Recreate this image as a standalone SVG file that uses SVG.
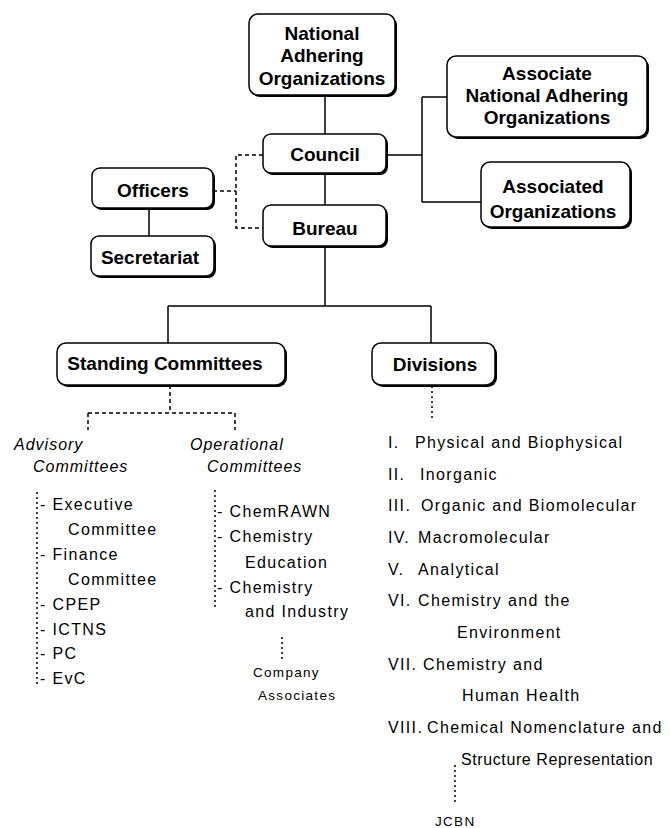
<svg xmlns="http://www.w3.org/2000/svg" width="670" height="828" viewBox="0 0 670 828">
<style>
.sh{fill:#000}
.bx{fill:#fff;stroke:#000;stroke-width:1.5}
.b{font-family:"Liberation Sans",Arial,sans-serif;font-weight:bold;font-size:19px;fill:#000;text-anchor:middle}
.t{font-family:"Liberation Sans",Arial,sans-serif;font-size:16px;letter-spacing:1.35px;fill:#000}
.i{font-family:"Liberation Sans",Arial,sans-serif;font-size:16px;font-style:italic;letter-spacing:1px;fill:#000}
.s{font-family:"Liberation Sans",Arial,sans-serif;font-size:13.5px;letter-spacing:1.3px;fill:#000}
.ln{fill:none;stroke:#000;stroke-width:1.5}
.da{fill:none;stroke:#000;stroke-width:1.5;stroke-dasharray:4 3}
.do{fill:none;stroke:#000;stroke-width:1.5;stroke-dasharray:2 3}
</style>
<rect width="670" height="828" fill="#fff"/>
<g id="connectors">
<path class="ln" d="M325 95V134M325 173V205M386 155H422M422 97V202M422 97H447M422 202H481"/>
<path class="ln" d="M149 209V236"/>
<path class="ln" d="M325 247V306M168 306H431M168 306V343M431 306V343"/>
<path class="da" d="M263 155H236V228H263M213 191H236"/>
<path class="da" d="M170 385V413M88 413H235M88 413V430M235 413V430"/>
<path class="do" d="M432 386V420"/>
<path class="do" d="M37 492V686"/>
<path class="do" d="M215 490V610"/>
<path class="do" d="M282 637V662"/>
<path class="do" d="M455 765V802"/>
</g>
<g id="nao">
<rect class="sh" x="251" y="16" width="146" height="81" rx="9"/>
<rect class="bx" x="249" y="14" width="146" height="81" rx="9"/>
<text class="b" x="322" y="40">National</text>
<text class="b" x="322" y="62">Adhering</text>
<text class="b" x="322" y="85">Organizations</text>
</g>
<g id="council">
<rect class="sh" x="265" y="136" width="123" height="39" rx="8"/>
<rect class="bx" x="263" y="134" width="123" height="39" rx="8"/>
<text class="b" x="325" y="161">Council</text>
</g>
<g id="bureau">
<rect class="sh" x="265" y="207" width="123" height="41" rx="8"/>
<rect class="bx" x="263" y="205" width="123" height="41" rx="8"/>
<text class="b" x="325" y="235">Bureau</text>
</g>
<g id="officers">
<rect class="sh" x="94" y="170" width="121" height="40" rx="8"/>
<rect class="bx" x="92" y="168" width="121" height="40" rx="8"/>
<text class="b" x="153" y="197">Officers</text>
</g>
<g id="secretariat">
<rect class="sh" x="93" y="238" width="123" height="40" rx="8"/>
<rect class="bx" x="91" y="236" width="123" height="40" rx="8"/>
<text class="b" x="150" y="264">Secretariat</text>
</g>
<g id="anao">
<rect class="sh" x="449" y="58" width="200" height="81" rx="9"/>
<rect class="bx" x="447" y="56" width="200" height="81" rx="9"/>
<text class="b" x="547" y="80">Associate</text>
<text class="b" x="547" y="102">National Adhering</text>
<text class="b" x="547" y="124">Organizations</text>
</g>
<g id="assoc">
<rect class="sh" x="483" y="164" width="149" height="65" rx="9"/>
<rect class="bx" x="481" y="162" width="149" height="65" rx="9"/>
<text class="b" x="553" y="193">Associated</text>
<text class="b" x="553" y="218">Organizations</text>
</g>
<g id="standing">
<rect class="sh" x="59" y="345" width="228" height="42" rx="9"/>
<rect class="bx" x="57" y="343" width="228" height="42" rx="9"/>
<text class="b" x="165" y="370">Standing Committees</text>
</g>
<g id="divisions">
<rect class="sh" x="374" y="345" width="123" height="42" rx="9"/>
<rect class="bx" x="372" y="343" width="123" height="42" rx="9"/>
<text class="b" x="435" y="371">Divisions</text>
</g>
<g id="advisory">
<text class="i" x="14" y="450">Advisory</text>
<text class="i" x="33" y="472">Committees</text>
<text class="t" x="40" y="510">- Executive</text>
<text class="t" x="68" y="535">Committee</text>
<text class="t" x="40" y="560">- Finance</text>
<text class="t" x="68" y="585">Committee</text>
<text class="t" x="40" y="610">- CPEP</text>
<text class="t" x="40" y="635">- ICTNS</text>
<text class="t" x="40" y="659">- PC</text>
<text class="t" x="40" y="684">- EvC</text>
</g>
<g id="operational">
<text class="i" x="190" y="450">Operational</text>
<text class="i" x="207" y="472">Committees</text>
<text class="t" x="217" y="517">- ChemRAWN</text>
<text class="t" x="217" y="542">- Chemistry</text>
<text class="t" x="245" y="568">Education</text>
<text class="t" x="217" y="593">- Chemistry</text>
<text class="t" x="245" y="617">and Industry</text>
</g>
<g id="company">
<text class="s" x="253" y="677">Company</text>
<text class="s" x="258" y="700">Associates</text>
</g>
<g id="divlist">
<text class="t" y="448"><tspan x="388">I.</tspan><tspan x="415">Physical and Biophysical</tspan></text>
<text class="t" y="480"><tspan x="388">II.</tspan><tspan x="420">Inorganic</tspan></text>
<text class="t" y="511"><tspan x="388">III.</tspan><tspan x="421">Organic and Biomolecular</tspan></text>
<text class="t" y="543"><tspan x="388">IV.</tspan><tspan x="418">Macromolecular</tspan></text>
<text class="t" y="575"><tspan x="388">V.</tspan><tspan x="418">Analytical</tspan></text>
<text class="t" y="606"><tspan x="388">VI.</tspan><tspan x="418">Chemistry and the</tspan></text>
<text class="t" x="457" y="638">Environment</text>
<text class="t" y="670"><tspan x="388">VII.</tspan><tspan x="423">Chemistry and</tspan></text>
<text class="t" x="462" y="701">Human Health</text>
<text class="t" y="733"><tspan x="388">VIII.</tspan><tspan x="427">Chemical Nomenclature and</tspan></text>
<text class="t" x="461" y="765" style="letter-spacing:0.6px">Structure Representation</text>
</g>
<g id="jcbn">
<text class="s" x="435" y="826">JCBN</text>
</g>
</svg>
